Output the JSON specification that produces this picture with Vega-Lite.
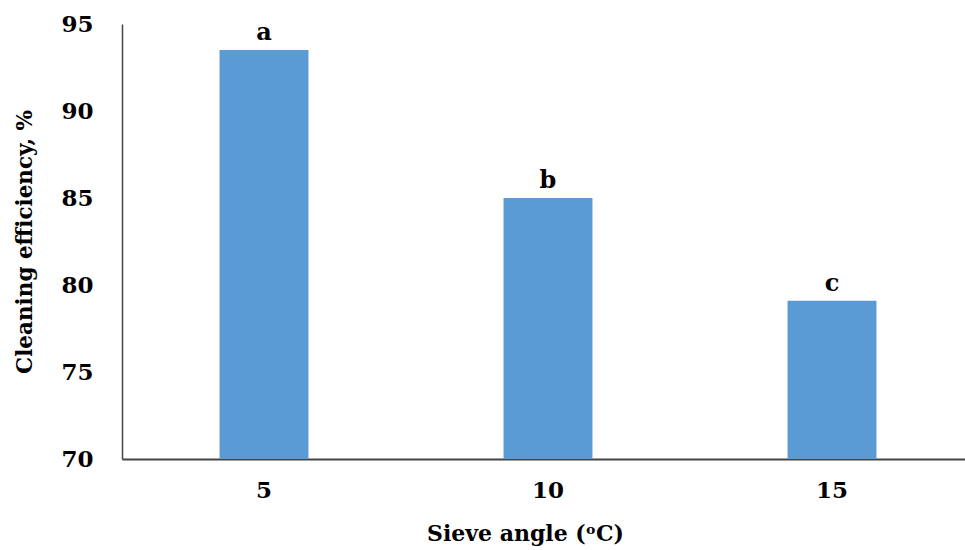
{
  "$schema": "https://vega.github.io/schema/vega-lite/v6.json",
  "width": 852,
  "height": 435,
  "autosize": "none",
  "padding": {"left": 122, "top": 24, "right": 0, "bottom": 91},
  "background": "white",
  "config": {
    "view": {"stroke": null},
    "font": "DejaVu Serif"
  },
  "data": {
    "values": [
      {"angle": "5", "efficiency": 93.5, "group": "a"},
      {"angle": "10", "efficiency": 85.0, "group": "b"},
      {"angle": "15", "efficiency": 79.1, "group": "c"}
    ]
  },
  "encoding": {
    "x": {
      "field": "angle",
      "type": "ordinal",
      "sort": null,
      "scale": {"paddingInner": 0.687, "paddingOuter": 0.3435},
      "axis": {
        "title": "Sieve angle (ᵒC)",
        "labelAngle": 0,
        "labelFont": "DejaVu Serif",
        "labelFontSize": 23,
        "labelFontWeight": "bold",
        "labelColor": "black",
        "labelPadding": 20,
        "ticks": false,
        "domainColor": "#444444",
        "domainWidth": 2,
        "titleFont": "DejaVu Serif",
        "titleFontSize": 22,
        "titleFontWeight": "bold",
        "titleColor": "black",
        "titlePadding": 21,
        "titleX": 403
      }
    },
    "y": {
      "field": "efficiency",
      "type": "quantitative",
      "scale": {"domain": [70, 95], "zero": false, "clamp": true},
      "axis": {
        "title": "Cleaning efficiency, %",
        "values": [70, 75, 80, 85, 90, 95],
        "grid": false,
        "ticks": false,
        "labelFont": "DejaVu Serif",
        "labelFontSize": 23,
        "labelFontWeight": "bold",
        "labelColor": "black",
        "labelPadding": 29,
        "domainColor": "#444444",
        "domainWidth": 1.5,
        "titleFont": "DejaVu Serif",
        "titleFontSize": 21.5,
        "titleFontWeight": "bold",
        "titleColor": "black",
        "titlePadding": 24
      }
    }
  },
  "layer": [
    {"mark": {"type": "bar", "color": "#5B9BD5"}},
    {
      "mark": {"type": "text", "dy": -17, "fontSize": 24, "fontWeight": "bold", "font": "DejaVu Serif", "color": "black"},
      "encoding": {"text": {"field": "group"}}
    }
  ]
}
